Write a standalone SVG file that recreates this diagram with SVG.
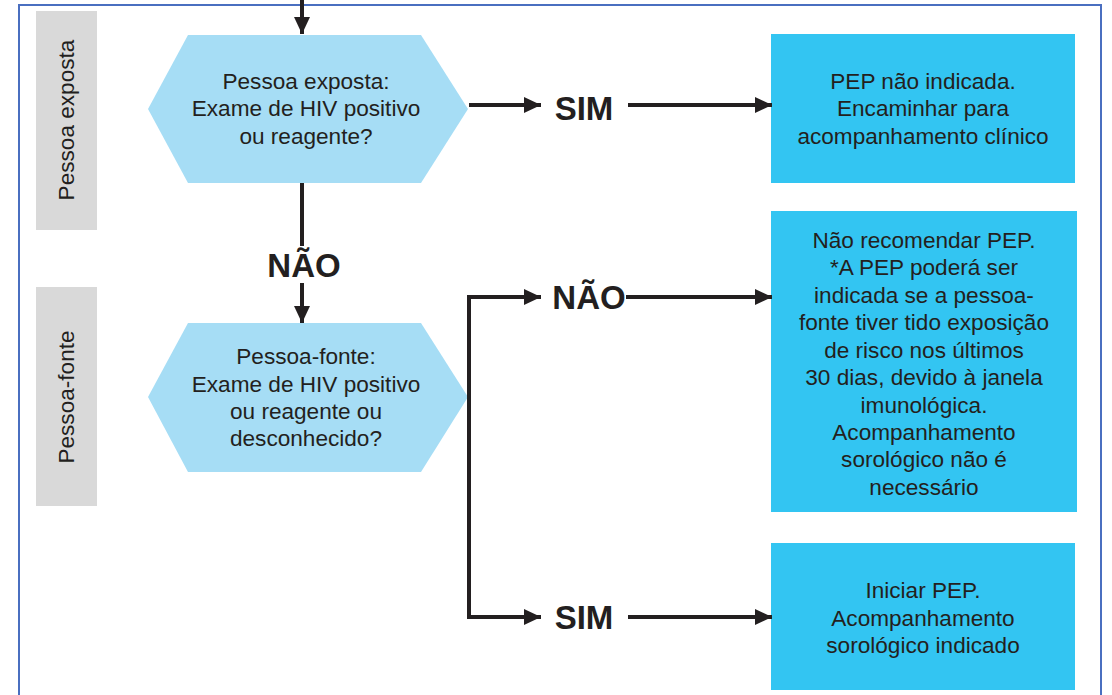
<svg xmlns="http://www.w3.org/2000/svg" width="1112" height="695" viewBox="0 0 1112 695">
<style>
.t{font-family:"Liberation Sans",Arial,sans-serif;font-size:22.6px;fill:#231F20;text-anchor:middle}
.b{font-family:"Liberation Sans",Arial,sans-serif;font-size:33px;font-weight:bold;fill:#231F20;text-anchor:middle}
.lane{fill:#D9D9D9}
.hex{fill:#A6DDF5}
.box{fill:#33C5F2}
.c{stroke:#231F20;stroke-width:4;fill:none}
</style>
<defs>
<marker id="ah" markerUnits="userSpaceOnUse" markerWidth="18" markerHeight="16" refX="17" refY="8" orient="auto">
<path d="M0,0 L17,8 L0,16 z" fill="#231F20"/>
</marker>
</defs>
<rect x="0" y="0" width="1112" height="695" fill="#fff"/>
<rect x="19" y="5" width="1082" height="700" fill="none" stroke="#4A6FC0" stroke-width="2"/>
<g id="lane1"><rect class="lane" x="36" y="11" width="61" height="219"/><text class="t" transform="translate(74,120) rotate(-90)">Pessoa exposta</text></g>
<g id="lane2"><rect class="lane" x="36" y="287" width="61" height="219"/><text class="t" transform="translate(74,397) rotate(-90)">Pessoa-fonte</text></g>
<g id="q1"><polygon class="hex" points="188,35 421,35 468,109 421,183 188,183 148,109"/>
<text class="t" x="306" y="89">Pessoa exposta:</text><text class="t" x="306" y="116">Exame de HIV positivo</text><text class="t" x="306" y="144">ou reagente?</text></g>
<g id="q2"><polygon class="hex" points="188,323 421,323 468,397 421,472 188,472 148,397"/>
<text class="t" x="306" y="364">Pessoa-fonte:</text><text class="t" x="306" y="392">Exame de HIV positivo</text><text class="t" x="306" y="419">ou reagente ou</text><text class="t" x="306" y="446">desconhecido?</text></g>
<g id="r1"><rect class="box" x="771" y="34" width="304" height="149"/>
<text class="t" x="923" y="89">PEP não indicada.</text><text class="t" x="923" y="116">Encaminhar para</text><text class="t" x="923" y="144">acompanhamento clínico</text></g>
<g id="r2"><rect class="box" x="771" y="211" width="306" height="301"/>
<text class="t" x="924" y="248">Não recomendar PEP.</text><text class="t" x="924" y="275">*A PEP poderá ser</text><text class="t" x="924" y="303">indicada se a pessoa-</text><text class="t" x="924" y="330">fonte tiver tido exposição</text><text class="t" x="924" y="358">de risco nos últimos</text><text class="t" x="924" y="385">30 dias, devido à janela</text><text class="t" x="924" y="413">imunológica.</text><text class="t" x="924" y="440">Acompanhamento</text><text class="t" x="924" y="467">sorológico não é</text><text class="t" x="924" y="495">necessário</text></g>
<g id="r3"><rect class="box" x="771" y="543" width="304" height="147"/>
<text class="t" x="923" y="598">Iniciar PEP.</text><text class="t" x="923" y="626">Acompanhamento</text><text class="t" x="923" y="653">sorológico indicado</text></g>
<g id="connectors">
<line class="c" x1="302" y1="0" x2="302" y2="34" marker-end="url(#ah)"/>
<line class="c" x1="302" y1="183" x2="302" y2="246"/>
<text class="b" x="304" y="277">NÃO</text>
<line class="c" x1="302" y1="283" x2="302" y2="323" marker-end="url(#ah)"/>
<line class="c" x1="469" y1="105" x2="541" y2="105" marker-end="url(#ah)"/>
<text class="b" x="584" y="120">SIM</text>
<line class="c" x1="628" y1="105" x2="772" y2="105" marker-end="url(#ah)"/>
<path class="c" d="M541,297 H469 V617 H541" marker-end="url(#ah)"/>
<path class="c" d="M469,297 H541" marker-end="url(#ah)"/>
<text class="b" x="589" y="309">NÃO</text>
<line class="c" x1="626" y1="297" x2="772" y2="297" marker-end="url(#ah)"/>
<text class="b" x="584" y="629">SIM</text>
<line class="c" x1="628" y1="617" x2="772" y2="617" marker-end="url(#ah)"/>
</g>
</svg>
